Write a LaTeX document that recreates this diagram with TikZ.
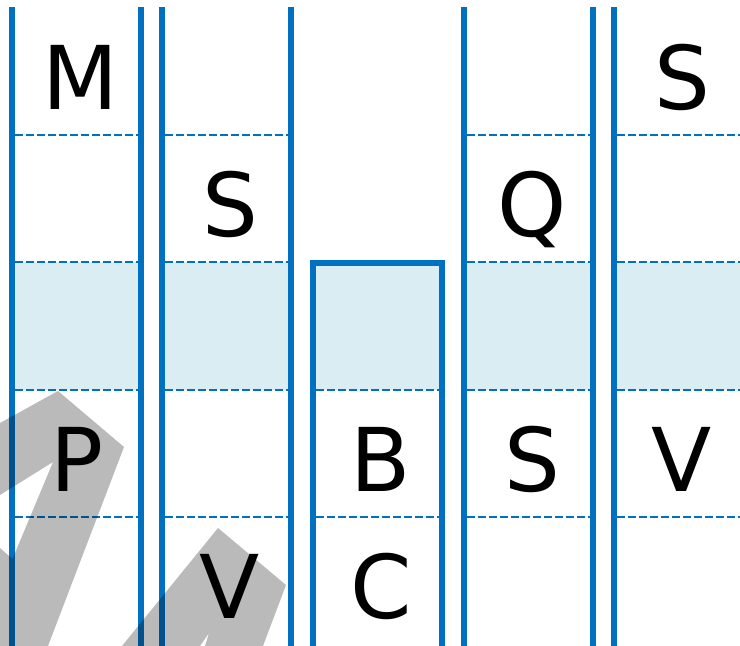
\documentclass[tikz,border=0pt]{standalone}
\usepackage{fontspec}
\setmainfont{DejaVu Sans}
\definecolor{lineblue}{HTML}{0070C0}
\definecolor{bandblue}{HTML}{DAEDF3}
\begin{document}
\begin{tikzpicture}[x=1pt,y=-1pt,
  vline/.style={draw=lineblue,line width=6pt},
  divider/.style={draw=lineblue,line width=2.3pt,dash pattern=on 8pt off 3pt},
  band/.style={fill=bandblue},
  shade/.style={fill=black,fill opacity=0.27},
  letter/.style={anchor=base,inner sep=0pt,font=\fontsize{88}{100}\selectfont}]
\useasboundingbox (0,0) rectangle (740,646);
% light band
\foreach \a/\b in {15/138,165/288,467/590,617/740}
  \fill[band] (\a,262) rectangle (\b,390);
\fill[band] (316,263) rectangle (439,390);
% dashed dividers
\foreach \a/\b in {15/138,165/288,467/590,617/740}
  \foreach \y in {135,262,390,517}
    \draw[divider] (\a,\y) -- (\b,\y);
\foreach \y in {390,517}
  \draw[divider] (316,\y) -- (439,\y);
% vertical lines
\foreach \x in {12,141,162,291,464,593,614}
  \draw[vline] (\x,7) -- (\x,646);
% box
\draw[vline] (313,646) -- (313,263) -- (442,263) -- (442,646);
% gray shapes
\fill[shade] (0,423) -- (58,391) -- (124,447) -- (48,646) -- (0,646) -- (0,548) -- (12.5,559) -- (53,462) -- (0,495) -- cycle;
\fill[shade] (122,646) -- (218,528) -- (286,585) -- (263,646) -- (205,646) -- (209,633) -- (200,646) -- cycle;
% letters
\node[letter] (m) at (80,109) {M};
\node[letter] (s1) at (682,109) {S};
\node[letter] (s2) at (230,236) {S};
\node[letter] (q) at (532,236) {Q};
\node[letter] (p) at (77,491) {P};
\node[letter] (b) at (381,491) {B};
\node[letter] (s3) at (532,491) {S};
\node[letter] (v1) at (682,491) {V};
\node[letter] (v2) at (230,618) {V};
\node[letter] (c) at (381,618) {C};
\end{tikzpicture}
\end{document}
